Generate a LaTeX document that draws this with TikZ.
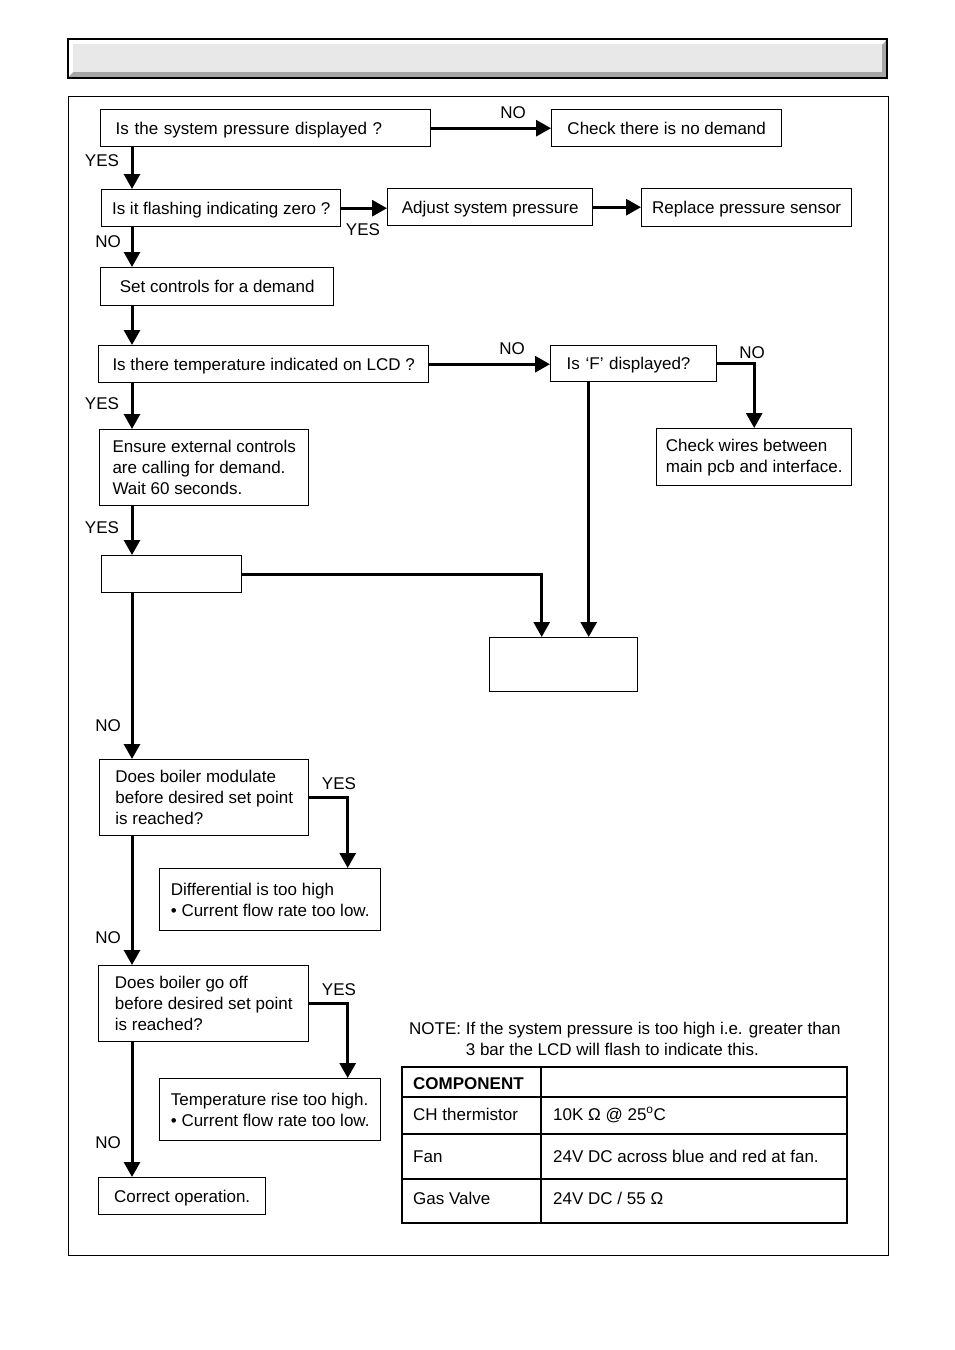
\documentclass[tikz,border=0pt]{standalone}
\usepackage{fontspec}
\setmainfont{Liberation Sans}
\usepackage{xcolor}
\usepackage{tikz}
\usetikzlibrary{arrows.meta}
\definecolor{hdrlight}{HTML}{E8E8E8}
\definecolor{hdrdark}{HTML}{A6A6A6}
\tikzset{
  box/.style={draw, line width=1.4pt, anchor=north west, inner sep=0pt, align=left, fill=white},
  oneline/.style={text height=12pt, text depth=0pt},
  arr/.style={-{Triangle[length=15pt,width=16pt]}, line width=3pt},
  lbl/.style={inner sep=0pt, text height=12pt, text depth=0pt},
  cell/.style={anchor=west, inner sep=0pt, text height=12pt, text depth=0pt},
  grid/.style={line width=1.4pt}
}

\begin{document}
\begin{tikzpicture}[x=1pt, y=-1pt, font=\fontsize{17}{21}\selectfont]
  \useasboundingbox (0,0) rectangle (954,1350);

  % title bar
  \fill[hdrdark] (68,39) rectangle (887,78);
  \fill[white] (68,39) -- (887,39) -- (883,44) -- (73,44) -- (73,72) -- (68,77) -- cycle;
  \fill[hdrlight] (73,44) rectangle (882,72);
  \draw[line width=1.3pt] (68,39) rectangle (887,78);
  \draw[line width=0.9pt] (68,96) rectangle (888,1255);

  \node[box, oneline, minimum width=330pt, minimum height=37pt, inner xsep=15pt, text width=300pt] (press) at (100,109) {Is the system pressure displayed ?};
  \node[box, oneline, minimum width=230pt, minimum height=37pt] (nodem) at (551,109) {Check there is no demand};
  \node[box, oneline, minimum width=239pt, minimum height=37pt] (zero) at (101,189) {Is it flashing indicating zero ?};
  \node[box, oneline, minimum width=205pt, minimum height=37pt] (adjust) at (387,188) {Adjust system pressure};
  \node[box, oneline, minimum width=210pt, minimum height=38pt] (sensor) at (641,188) {Replace pressure sensor};
  \node[box, oneline, minimum width=233pt, minimum height=38pt] (setctl) at (100,267) {Set controls for a demand};
  \node[box, oneline, minimum width=330pt, minimum height=37pt] (lcd) at (98,345) {Is there temperature indicated on LCD ?};
  \node[box, oneline, minimum width=166pt, minimum height=36pt, inner xsep=16pt, text width=134pt] (fdisp) at (550,345) {Is `F' displayed?};
  \node[box, minimum width=195pt, minimum height=57pt] (wires) at (656,428) {Check wires between\\main pcb and interface.};
  \node[box, minimum width=209pt, minimum height=76pt] (ensure) at (99,429) {Ensure external controls\\are calling for demand.\\Wait 60 seconds.};
  \node[box, minimum width=140pt, minimum height=37pt] (blankA) at (101,555) {};
  \node[box, minimum width=148pt, minimum height=54pt] (blankB) at (489,637) {};
  \node[box, minimum width=209pt, minimum height=76pt] (modul) at (99,759) {Does boiler modulate\\before desired set point\\is reached?};
  \node[box, minimum width=221pt, minimum height=62pt] (diff) at (159,868) {Differential is too high\\• Current flow rate too low.};
  \node[box, minimum width=210pt, minimum height=76pt] (gooff) at (98,965) {Does boiler go off\\before desired set point\\is reached?};
  \node[box, minimum width=221pt, minimum height=62pt] (trise) at (159,1078) {Temperature rise too high.\\• Current flow rate too low.};
  \node[box, oneline, minimum width=167pt, minimum height=37pt] (correct) at (98,1177) {Correct operation.};

  \coordinate (trunk) at (132,0);
  \draw[arr] (press.east) -- (nodem.west);
  \draw[arr] (press.south -| trunk) -- (zero.north -| trunk);
  \draw[arr] (zero.east) -- (zero.east -| adjust.west);
  \draw[arr] (adjust.east) -- (adjust.east -| sensor.west);
  \draw[arr] (zero.south -| trunk) -- (setctl.north -| trunk);
  \draw[arr] (setctl.south -| trunk) -- (lcd.north -| trunk);
  \draw[arr] (lcd.east) -- (lcd.east -| fdisp.west);
  \draw[arr] (fdisp.east) -| (wires.north);
  \draw[arr] (lcd.south -| trunk) -- (ensure.north -| trunk);
  \draw[arr] (ensure.south -| trunk) -- (blankA.north -| trunk);
  \draw[arr] (blankA.east) -| ([xshift=-22pt]blankB.north);
  \draw[arr] ([xshift=-45pt]fdisp.south) -- ([xshift=25pt]blankB.north);
  \draw[arr] (blankA.south -| trunk) -- (modul.north -| trunk);
  \draw[arr] (modul.east) -| ([xshift=77.5pt]diff.north);
  \draw[arr] (modul.south -| trunk) -- (gooff.north -| trunk);
  \draw[arr] (gooff.east) -| ([xshift=77.5pt]trise.north);
  \draw[arr] (gooff.south -| trunk) -- (correct.north -| trunk);

  \node[lbl] (noA) at (513,112) {NO};
  \node[lbl] (yesA) at (102,160) {YES};
  \node[lbl] (yesB) at (363,229) {YES};
  \node[lbl] (noB) at (108,241) {NO};
  \node[lbl] (noC) at (512,348) {NO};
  \node[lbl] (noD) at (752,352) {NO};
  \node[lbl] (yesC) at (102,403) {YES};
  \node[lbl] (yesD) at (102,527) {YES};
  \node[lbl] (noE) at (108,725) {NO};
  \node[lbl] (yesE) at (339,783) {YES};
  \node[lbl] (noF) at (108,937) {NO};
  \node[lbl] (yesF) at (339,989) {YES};
  \node[lbl] (noG) at (108,1142) {NO};

  \node[anchor=west, inner sep=0pt, align=left] (note) at (409,1038.5) {NOTE: If the system pressure is too high i.e. greater than\\\hphantom{NOTE:\ }3 bar the LCD will flash to indicate this.};

  % component table
  \draw[grid] (402,1067) rectangle (847,1223);
  \draw[grid] (541,1067) -- (541,1223);
  \foreach \y in {1097,1134,1179}
    \draw[grid] (402,\y) -- (847,\y);
  \node[cell] (hcomp) at (413,1083) {\bfseries COMPONENT};
  \node[cell] (cth) at (413,1114) {CH thermistor};
  \node[cell] (vth) at (553,1114) {10K Ω @ 25\textsuperscript{o}C};
  \node[cell] (cfan) at (413,1156) {Fan};
  \node[cell] (vfan) at (553,1156) {24V DC across blue and red at fan.};
  \node[cell] (cgas) at (413,1198) {Gas Valve};
  \node[cell] (vgas) at (553,1198) {24V DC / 55 Ω};
\end{tikzpicture}
\end{document}
